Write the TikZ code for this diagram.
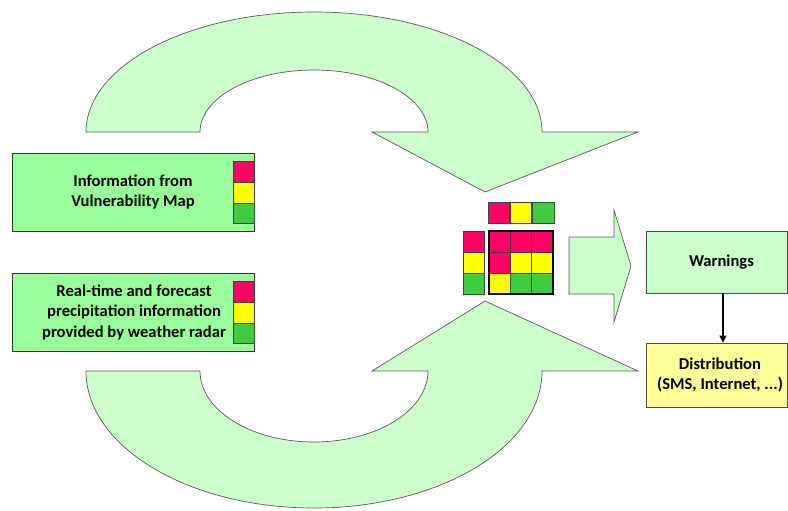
\documentclass[tikz,border=0pt]{standalone}
\usepackage{fontspec}
\setmainfont{Carlito}
\usetikzlibrary{arrows.meta}
\definecolor{boxg}{HTML}{99FF99}
\definecolor{archg}{HTML}{CCFFCC}
\definecolor{pk}{HTML}{FF0066}
\definecolor{yl}{HTML}{FFFF00}
\definecolor{gr}{HTML}{40CC40}
\definecolor{lyl}{HTML}{FFFF99}
\begin{document}
\begin{tikzpicture}[x=1pt,y=-1pt,
  archstyle/.style={fill=archg,draw=black!65,line width=0.7pt,line join=miter},
  infobox/.style={draw=black!80,fill=boxg,line width=0.8pt,minimum width=242pt,minimum height=78pt,inner sep=0pt},
  outbox/.style={draw=black!70,line width=0.8pt,minimum width=141pt,inner sep=0pt},
  lbl/.style={font=\bfseries\fontsize{16.6}{20.5}\selectfont,align=center,text=black},
  cell/.style={draw=black!75,line width=0.6pt}]
\useasboundingbox (0,0) rectangle (788,511);
% top curved arrow
\path[archstyle] (86,132) arc[start angle=180,end angle=0,x radius=228pt,y radius=120pt]
  -- (638,132) -- (485,192) -- (372,132) -- (428,132)
  arc[start angle=0,end angle=180,x radius=114pt,y radius=62pt] -- cycle;
% bottom curved arrow
\path[archstyle] (86,371) arc[start angle=180,end angle=360,x radius=228pt,y radius=137pt]
  -- (638,371) -- (485,301) -- (372,371) -- (428,371)
  arc[start angle=360,end angle=180,x radius=114pt,y radius=71pt] -- cycle;
% input boxes
\node[infobox] (vul) at (133,192) {};
\node[lbl] (vultext) at (133,192) {Information from\\Vulnerability Map};
\draw[cell,fill=pk] (233,161) rectangle (254,182);
\draw[cell,fill=yl] (233,182) rectangle (254,203);
\draw[cell,fill=gr] (233,203) rectangle (254,223);
\node[infobox] (rad) at (133,312) {};
\node[lbl] (radtext) at (134,312) {Real-time and forecast\\precipitation information\\provided by weather radar};
\draw[cell,fill=pk] (233,281) rectangle (254,302);
\draw[cell,fill=yl] (233,302) rectangle (254,323);
\draw[cell,fill=gr] (233,323) rectangle (254,343);
% risk matrix
\draw[cell,fill=pk] (488,202) rectangle (509,223);
\draw[cell,fill=yl] (510,202) rectangle (531,223);
\draw[cell,fill=gr] (532,202) rectangle (554,223);
\draw[cell,fill=pk] (463,231) rectangle (484,252);
\draw[cell,fill=yl] (463,252) rectangle (484,273);
\draw[cell,fill=gr] (463,273) rectangle (484,294);
\foreach \c [count=\i from 0] in {pk,pk,pk,pk,yl,yl,yl,gr,gr}{
  \pgfmathtruncatemacro{\r}{div(\i,3)}
  \pgfmathtruncatemacro{\k}{mod(\i,3)}
  \draw[cell,fill=\c] (489+21.33*\k,231+21*\r) rectangle (489+21.33*\k+21.33,231+21*\r+21);
}
\draw[line width=2.4pt,black] (489,231) rectangle (553,294);
% right block arrow
\path[archstyle] (569,237) -- (614,237) -- (614,210) -- (631,266) -- (614,322) -- (614,294) -- (569,294) -- cycle;
% output boxes
\node[outbox,fill=archg,minimum height=62pt,lbl] (warn) at (716.5,262) {\hspace*{10pt}Warnings};
\node[outbox,fill=lyl,minimum height=64pt,lbl] (dist) at (716.5,375) {\hspace*{7pt}Distribution\\\hspace*{7pt}(SMS, Internet, ...)};
\draw[line width=1.4pt,-{Triangle[length=7pt,width=7pt]}] ([xshift=6.5pt]warn.south) -- ([xshift=6.5pt]dist.north);
\end{tikzpicture}
\end{document}
